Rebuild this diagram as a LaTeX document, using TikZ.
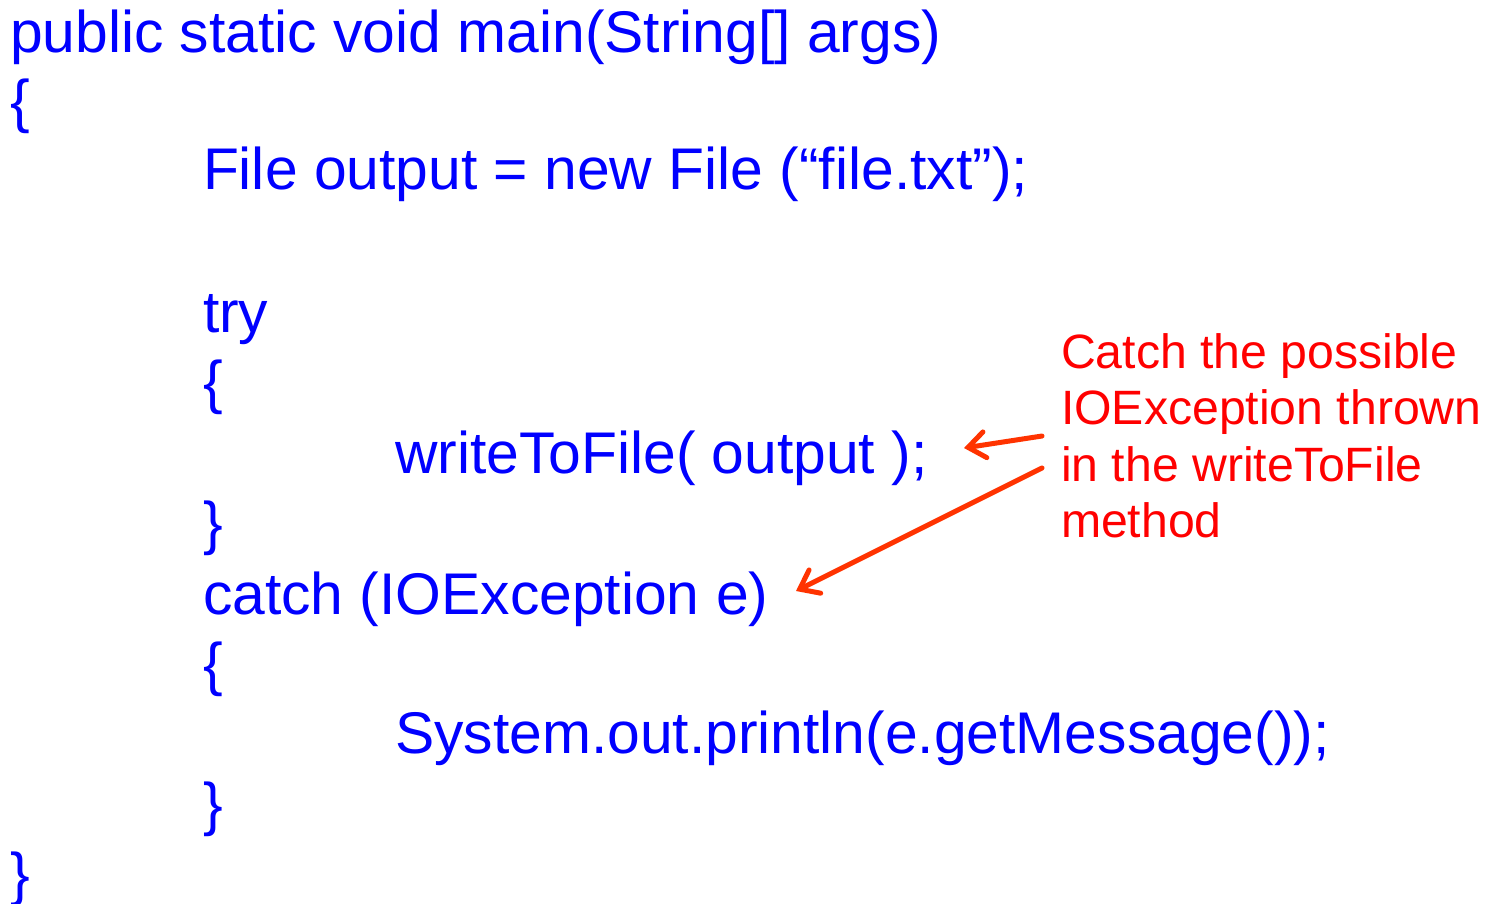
\documentclass[tikz,border=0pt]{standalone}
\usepackage{fontspec}
\setmainfont{Liberation Sans}
\usetikzlibrary{arrows.meta}
\definecolor{codeblue}{RGB}{0,0,255}
\definecolor{notered}{RGB}{255,0,0}
\definecolor{arrowred}{RGB}{255,51,0}
\tikzset{
  code/.style={anchor=base west, inner sep=0pt, outer sep=0pt, text=codeblue,
    font=\fontsize{58.8}{70}\selectfont},
  note/.style={anchor=base west, inner sep=0pt, outer sep=0pt, text=notered,
    font=\fontsize{48.2}{56.5}\selectfont, align=left},
  pointer/.style={draw=arrowred, line width=5pt, line cap=round, line join=round,
    -{Straight Barb[length=17pt,width=26pt,line cap=round]}}
}
\begin{document}
\begin{tikzpicture}[x=1pt,y=-1pt]
\useasboundingbox (0,0) rectangle (1496,903);
\node[code] (l1)  at (10,52)  {public static void main(String[] args)};
\node[code] (l2)  at (10,121) {\{};
\node[code] (l3)  at (203,189) {File output = new File (“file.txt”);};
\node[code] (l5)  at (203,332) {try};
\node[code] (l6)  at (203,402) {\{};
\node[code] (l7)  at (395,473) {writeToFile( output );};
\node[code] (l8)  at (203,543) {\}};
\node[code] (l9)  at (203,614) {catch (IOException e)};
\node[code] (l10) at (203,684) {\{};
\node[code] (l11) at (395,753) {System.out.println(e.getMessage());};
\node[code] (l12) at (203,824) {\}};
\node[code] (l13) at (10,894) {\}};
\node[note] (n1) at (1061,368) {Catch the possible};
\node[note] (n2) at (1061,424) {IOException thrown};
\node[note] (n3) at (1061,481) {in the writeToFile};
\node[note] (n4) at (1061,537) {method};
\coordinate (s1) at (1042,436);
\coordinate (t1) at (964,448);
\coordinate (s2) at (1042,468);
\coordinate (t2) at (796,591);
\draw[pointer] (s1) -- (t1);
\draw[pointer] (s2) -- (t2);
\end{tikzpicture}
\end{document}
